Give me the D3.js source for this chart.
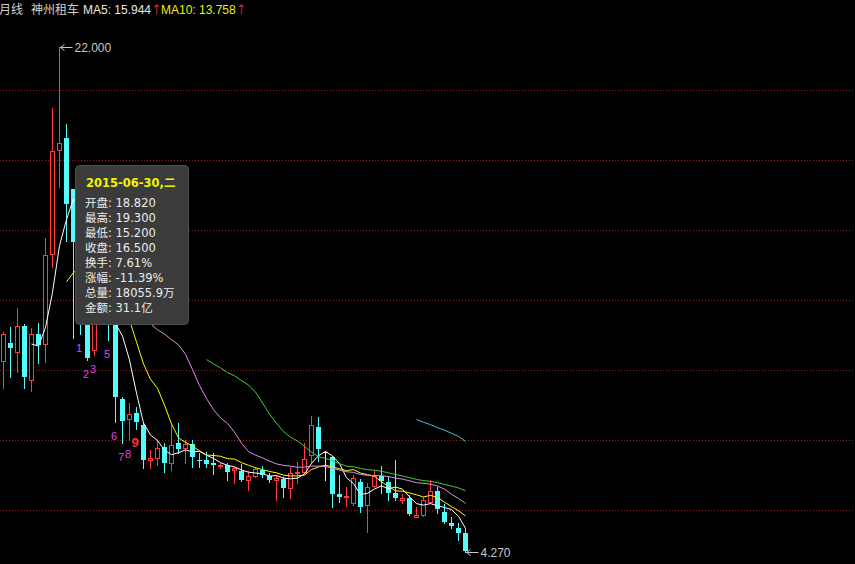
<!DOCTYPE html>
<html>
<head>
<meta charset="utf-8">
<script src="https://cdn.jsdelivr.net/npm/d3@7"></script>
<style>
  html, body { margin: 0; padding: 0; background: #000; overflow: hidden; }
  svg { display: block; }
</style>
</head>
<body>
<svg id="chart" width="855" height="564"></svg>
<script>
// 神州租车 monthly K-line, Sep 2014 – Mar 2020
const stockName = "神州租车";
const periodName = "月线";

const opens = [10.99, 11.62, 11.30, 12.21, 10.31, 11.91, 11.56, 14.72, 18.38, 18.82,
  17.00, 15.10, 13.00, 11.36, 13.35, 14.55, 12.70, 9.63, 8.94, 9.14,
  8.73, 7.50, 7.56, 7.97, 7.38, 8.09, 7.93, 8.06, 7.50, 7.50,
  7.40, 7.29, 7.32, 7.15, 7.12, 6.80, 6.94, 7.15, 6.94, 6.80,
  6.82, 6.50, 7.05, 7.08, 7.67, 8.67, 7.78, 7.61, 6.31, 6.19,
  5.98, 6.74, 5.92, 6.59, 6.94, 6.74, 6.35, 6.09, 6.17, 5.49,
  5.57, 6.01, 6.42, 5.68, 5.30, 5.12, 4.92];

const highs = [11.98, 12.18, 12.82, 12.26, 12.12, 12.30, 15.30, 19.85, 22.00, 19.30,
  17.02, 15.60, 13.25, 13.60, 15.30, 15.00, 13.00, 9.70, 9.49, 9.35,
  8.79, 7.85, 8.20, 8.11, 8.73, 8.81, 8.20, 8.20, 7.73, 7.79,
  7.76, 7.40, 7.38, 7.26, 7.36, 7.11, 7.26, 7.29, 7.03, 6.97,
  6.89, 7.26, 7.44, 8.11, 9.04, 9.00, 7.81, 7.64, 6.97, 6.56,
  6.97, 6.82, 6.68, 7.15, 7.29, 6.89, 7.50, 6.31, 6.27, 5.86,
  6.21, 6.80, 6.54, 5.95, 5.49, 5.28, 5.10];

const lows = [10.04, 10.42, 10.60, 10.02, 9.92, 10.89, 10.95, 14.29, 17.09, 15.20,
  11.79, 11.93, 11.01, 11.19, 13.05, 11.70, 8.84, 8.11, 8.20, 8.59,
  7.21, 7.22, 7.32, 7.07, 7.15, 7.73, 7.38, 7.26, 7.26, 7.26,
  7.01, 7.21, 6.80, 6.68, 6.77, 6.45, 6.89, 6.91, 6.74, 6.09,
  6.21, 6.15, 6.68, 7.03, 7.38, 7.45, 6.80, 5.86, 6.03, 5.88,
  5.92, 5.68, 4.98, 6.54, 6.33, 6.09, 6.09, 5.98, 5.57, 5.49,
  5.53, 5.98, 5.63, 5.30, 5.10, 4.69, 4.27];

const closes = [11.91, 11.42, 12.20, 10.42, 11.91, 11.55, 14.70, 18.35, 18.62, 16.50,
  15.16, 13.00, 11.07, 13.31, 14.62, 12.75, 9.70, 8.87, 9.11, 8.82,
  7.50, 7.58, 7.93, 7.38, 8.03, 7.87, 8.06, 7.59, 7.46, 7.36,
  7.32, 7.32, 7.09, 7.21, 6.80, 6.94, 7.17, 6.97, 6.80, 6.88,
  6.50, 7.05, 7.09, 7.52, 8.73, 7.87, 7.78, 6.31, 6.19, 6.23,
  6.86, 5.84, 6.54, 6.94, 6.77, 6.35, 6.15, 6.17, 5.60, 5.57,
  6.09, 6.42, 5.77, 5.33, 5.18, 4.92, 4.30];

// moving averages shown on the chart
const maPeriods = [5, 10, 20, 30, 60];
const maColors = ["#ffffff", "#ffff00", "#e28de6", "#3ccf3c", "#45c3e3"];

// sequential count marks under the candles (the 4th sits under the info box)
const countIdx = [11, 12, 13, 15, 16, 17, 18, 19];
const countText = ["1", "2", "3", "5", "6", "7", "8", "9"];

// hover info for the selected bar
const tipIndex = 9;
const tipDate = "2015-06-30,二";
const tipTurnover = "7.61%";
const tipVolume = "18055.9万";
const tipAmount = "31.1亿";

const W = 855, H = 564;
const RED = "#ff3b3b", CYAN = "#54fcfc", DOJI = "#e8e8e8";

const svg = d3.select("#chart");
svg.append("rect").attr("width", W).attr("height", H).attr("fill", "#000");

const n = closes.length;
const x = d3.scalePoint().domain(d3.range(n)).range([3.5, 465.5]);
const y = d3.scaleLinear().domain([d3.min(lows), d3.max(highs)]).range([552, 47]);
const py = v => Math.round(y(v));

// horizontal dotted grid
const gridRow = d3.scaleLinear().domain([0, 6]).range([90.5, 510.5]);
svg.append("g").selectAll("line").data(d3.range(7)).join("line")
  .attr("x1", 0).attr("x2", W)
  .attr("y1", d => gridRow(d)).attr("y2", d => gridRow(d))
  .attr("stroke", "#9a1c1c").attr("stroke-width", 1)
  .attr("stroke-dasharray", "1,2");

// candles
const bars = d3.range(n).map(i => ({
  i, o: opens[i], h: highs[i], l: lows[i], c: closes[i],
  kind: closes[i] > opens[i] ? "up" : (closes[i] < opens[i] ? "down" : "flat")
}));
const cg = svg.append("g").attr("shape-rendering", "crispEdges");

// down bars: solid cyan
const down = bars.filter(b => b.kind === "down");
cg.selectAll("line.wd").data(down).join("line").attr("class", "wd")
  .attr("x1", b => x(b.i)).attr("x2", b => x(b.i))
  .attr("y1", b => py(b.h)).attr("y2", b => py(b.l) + 1)
  .attr("stroke", CYAN);
cg.selectAll("rect.bd").data(down).join("rect").attr("class", "bd")
  .attr("x", b => x(b.i) - 2.5).attr("width", 5)
  .attr("y", b => py(b.o))
  .attr("height", b => Math.max(1, py(b.c) - py(b.o)))
  .attr("fill", CYAN);

// up bars: hollow red
const up = bars.filter(b => b.kind === "up");
cg.selectAll("line.wu1").data(up).join("line").attr("class", "wu1")
  .attr("x1", b => x(b.i)).attr("x2", b => x(b.i))
  .attr("y1", b => py(b.h)).attr("y2", b => py(b.c))
  .attr("stroke", RED);
cg.selectAll("line.wu2").data(up).join("line").attr("class", "wu2")
  .attr("x1", b => x(b.i)).attr("x2", b => x(b.i))
  .attr("y1", b => py(b.o)).attr("y2", b => py(b.l) + 1)
  .attr("stroke", RED);
cg.selectAll("rect.bu").data(up).join("rect").attr("class", "bu")
  .attr("x", b => x(b.i) - 2).attr("width", 4)
  .attr("y", b => py(b.c) + 0.5)
  .attr("height", b => Math.max(1, py(b.o) - py(b.c)))
  .attr("fill", "#000").attr("stroke", RED);

// unchanged bars: cross
const flat = bars.filter(b => b.kind === "flat");
cg.selectAll("line.wf").data(flat).join("line").attr("class", "wf")
  .attr("x1", b => x(b.i)).attr("x2", b => x(b.i))
  .attr("y1", b => py(b.h)).attr("y2", b => py(b.l) + 1)
  .attr("stroke", DOJI);
cg.selectAll("line.bf").data(flat).join("line").attr("class", "bf")
  .attr("x1", b => x(b.i) - 2.5).attr("x2", b => x(b.i) + 2.5)
  .attr("y1", b => py(b.o) + 0.5).attr("y2", b => py(b.o) + 0.5)
  .attr("stroke", DOJI);

// moving average lines
function movingAverage(period) {
  return closes.map((_, i) => i < period - 1 ? null
    : d3.mean(closes.slice(i - period + 1, i + 1)));
}
const maSeries = maPeriods.map(movingAverage);
const maLine = d3.line()
  .defined(d => d != null)
  .x((d, i) => x(i))
  .y(d => y(d));
svg.append("g").selectAll("path").data(maSeries).join("path")
  .attr("d", maLine)
  .attr("fill", "none")
  .attr("stroke", (d, k) => maColors[k])
  .attr("stroke-width", 1);

// count marks
svg.append("g").selectAll("text").data(countIdx).join("text")
  .attr("x", i => x(i) - 1.5)
  .attr("y", i => y(lows[i]) + 18)
  .attr("text-anchor", "middle")
  .attr("font-family", "Liberation Sans, Arial, sans-serif")
  .attr("font-size", (i, k) => countText[k] === "9" ? 13 : 11)
  .attr("font-weight", (i, k) => countText[k] === "9" ? "bold" : "normal")
  .attr("fill", (i, k) => countText[k] === "9" ? "#ff3030" : "#e040e0")
  .text((i, k) => countText[k]);

// highest / lowest price markers
const hiIdx = d3.maxIndex(highs), loIdx = d3.minIndex(lows);
function extremeMark(i, v) {
  const g = svg.append("g");
  const x0 = x(i) + 1, yy = py(v) + 0.5;
  g.append("line").attr("x1", x0).attr("x2", x0 + 12).attr("y1", yy).attr("y2", yy)
    .attr("stroke", "#c8c8c8");
  g.append("path").attr("d", `M${x0 + 4},${yy - 3}L${x0},${yy}L${x0 + 4},${yy + 3}`)
    .attr("fill", "none").attr("stroke", "#c8c8c8");
  g.append("text").attr("x", x0 + 14).attr("y", yy + 4.5)
    .attr("font-family", "Liberation Sans, Arial, sans-serif").attr("font-size", 12)
    .attr("fill", "#c8c8c8").text(d3.format(".3f")(v));
}
extremeMark(hiIdx, highs[hiIdx]);
extremeMark(loIdx, lows[loIdx]);

// header line
const hdr = svg.append("g").attr("font-size", 12);
const cjk = "Noto Sans CJK SC, sans-serif";
const lat = "Liberation Sans, Arial, sans-serif";
hdr.append("text").attr("x", -1).attr("y", 14).attr("font-family", cjk)
  .attr("fill", "#d0d0d0").text(periodName);
hdr.append("text").attr("x", 31).attr("y", 14).attr("font-family", cjk)
  .attr("fill", "#d0d0d0").text(stockName);
const hdrItems = [0, 1].map(k => ({
  label: "MA" + maPeriods[k] + ": " + maSeries[k][tipIndex].toFixed(3),
  color: maColors[k]
}));
const hdrX = [83, 161];
hdrItems.forEach((it, k) => {
  const t = hdr.append("text").attr("x", hdrX[k]).attr("y", 14).attr("font-family", lat);
  t.append("tspan").attr("fill", it.color === "#ffffff" ? "#e8e8e8" : "#f0f000").text(it.label);
  t.append("tspan").attr("fill", "#ff3030").attr("font-family", cjk).attr("font-size", 11).text("↑");
});

// info box for the selected bar
const tip = svg.append("g");
tip.append("rect").attr("x", 75.5).attr("y", 165.5).attr("width", 113).attr("height", 159)
  .attr("rx", 4).attr("fill", "#3b3b3b").attr("stroke", "#4e4e4e");
tip.append("text").attr("x", 86).attr("y", 187)
  .attr("font-family", "DejaVu Sans, Noto Sans CJK SC, sans-serif")
  .attr("font-weight", "bold").attr("font-size", 11.5)
  .attr("fill", "#f4f400").text(tipDate);
const chg = (closes[tipIndex] / closes[tipIndex - 1] - 1) * 100;
const rows = [
  ["开盘", opens[tipIndex].toFixed(3)],
  ["最高", highs[tipIndex].toFixed(3)],
  ["最低", lows[tipIndex].toFixed(3)],
  ["收盘", closes[tipIndex].toFixed(3)],
  ["换手", tipTurnover],
  ["涨幅", chg.toFixed(2) + "%"],
  ["总量", tipVolume],
  ["金额", tipAmount]
];
tip.selectAll("text.row").data(rows).join("text").attr("class", "row")
  .attr("x", 85).attr("y", (d, k) => 207 + k * 15)
  .attr("font-family", "DejaVu Sans, Noto Sans CJK SC, sans-serif")
  .attr("font-size", 11.5).attr("fill", "#ececec")
  .text(d => d[0] + ": " + d[1]);
</script>
</body>
</html>
